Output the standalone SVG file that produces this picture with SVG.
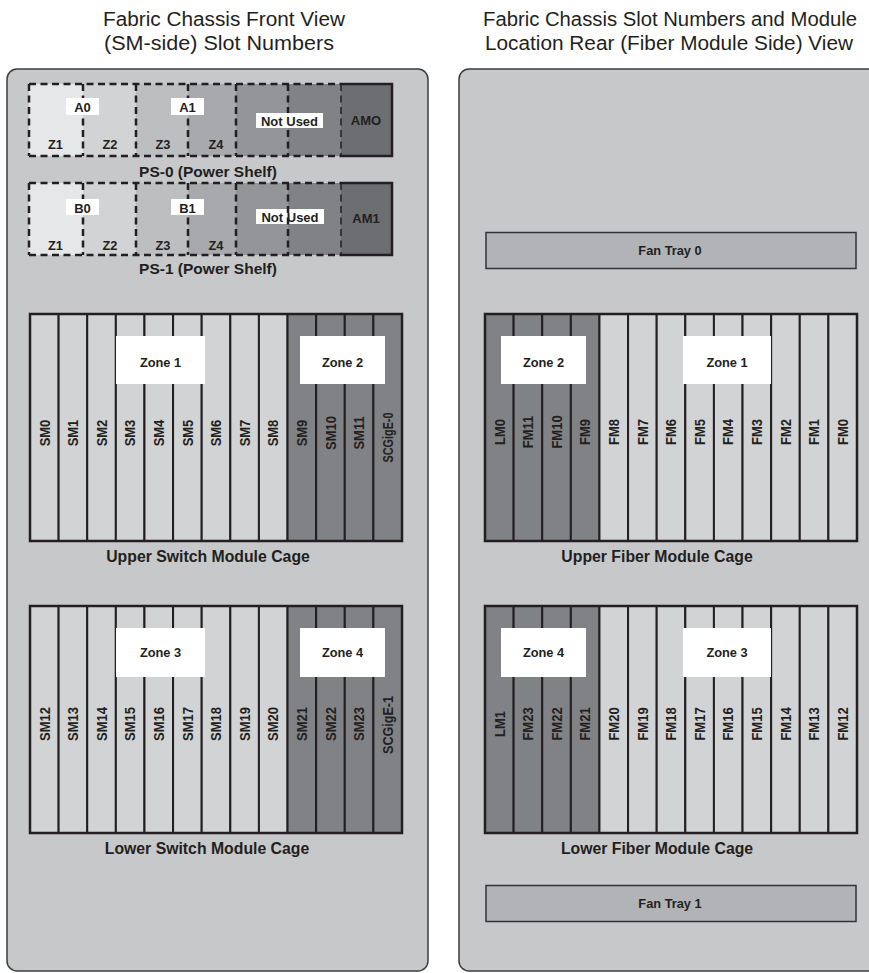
<svg xmlns="http://www.w3.org/2000/svg" width="869" height="973" viewBox="0 0 869 973">
<style>
text{font-family:"Liberation Sans",Arial,sans-serif;fill:#231f20}
.title{font-size:20px}
.cage{font-size:15.8px;font-weight:bold}
.ps{font-size:15.5px;font-weight:bold}
.sm{font-size:13px;font-weight:bold}
.zn{font-size:12.8px;font-weight:bold}
.panel{fill:#c7c8ca;stroke:#3c3c3e;stroke-width:1.5}
.lt{fill:#d1d3d4;stroke:#231f20;stroke-width:2}
.dk{fill:#808285;stroke:#231f20;stroke-width:2}
.frame{fill:none;stroke:#231f20;stroke-width:2.5}
.wb{fill:#ffffff}
.dash{fill:none;stroke:#231f20;stroke-width:2.5;stroke-dasharray:7 4.5}
.dash2{fill:none;stroke:#231f20;stroke-width:1.5;stroke-dasharray:7 4.5}
.solid{fill:none;stroke:#231f20;stroke-width:2.5}
.fan{fill:#b1b3b6;stroke:#333335;stroke-width:1.5}
</style>

<g id="titles">
<text class="title" x="224" y="26" text-anchor="middle" textLength="242" lengthAdjust="spacingAndGlyphs">Fabric Chassis Front View</text>
<text class="title" x="219" y="49.5" text-anchor="middle" textLength="230" lengthAdjust="spacingAndGlyphs">(SM-side) Slot Numbers</text>
<text class="title" x="670" y="26" text-anchor="middle" textLength="374" lengthAdjust="spacingAndGlyphs">Fabric Chassis Slot Numbers and Module</text>
<text class="title" x="669" y="49.5" text-anchor="middle" textLength="368" lengthAdjust="spacingAndGlyphs">Location Rear (Fiber Module Side) View</text>
</g>

<g id="front-panel">
<rect class="panel" x="7" y="69" width="421" height="902" rx="10"/>
</g>
<g id="rear-panel">
<rect class="panel" x="459" y="69" width="430" height="902" rx="10"/>
</g>

<g id="ps0">
<rect x="29" y="84" width="54" height="72" fill="#e6e7e8"/>
<rect x="83" y="84" width="53" height="72" fill="#d1d3d4"/>
<rect x="136" y="84" width="52" height="72" fill="#bcbec0"/>
<rect x="188" y="84" width="48" height="72" fill="#a7a9ac"/>
<rect x="236" y="84" width="52" height="72" fill="#939598"/>
<rect x="288" y="84" width="53" height="72" fill="#808285"/>
<rect x="341" y="84" width="51" height="72" fill="#6d6e71"/>
<path class="dash" d="M29,84 H341 M29,156 H341 M29,84 V156 M83,84 V156 M136,84 V156 M188,84 V156 M236,84 V156 M288,84 V156"/>
<path class="dash2" d="M341,84 V156"/>
<path class="solid" d="M341,84 H392 V156 H341"/>
<rect class="wb" x="66" y="98" width="33" height="17"/>
<text class="sm" x="82.5" y="112" text-anchor="middle">A0</text>
<rect class="wb" x="171" y="98" width="33" height="17"/>
<text class="sm" x="187.5" y="112" text-anchor="middle">A1</text>
<rect class="wb" x="256" y="113" width="67" height="15"/>
<text class="sm" x="289.5" y="125.5" text-anchor="middle">Not Used</text>
<text class="sm" x="366" y="125" text-anchor="middle">AMO</text>
<text class="zn" x="55.5" y="148.5" text-anchor="middle">Z1</text>
<text class="zn" x="110" y="148.5" text-anchor="middle">Z2</text>
<text class="zn" x="163" y="148.5" text-anchor="middle">Z3</text>
<text class="zn" x="216" y="148.5" text-anchor="middle">Z4</text>
<text class="ps" x="208" y="177" text-anchor="middle">PS-0 (Power Shelf)</text>
</g>

<g id="ps1">
<rect x="29" y="183" width="54" height="72" fill="#e6e7e8"/>
<rect x="83" y="183" width="53" height="72" fill="#d1d3d4"/>
<rect x="136" y="183" width="52" height="72" fill="#bcbec0"/>
<rect x="188" y="183" width="48" height="72" fill="#a7a9ac"/>
<rect x="236" y="183" width="52" height="72" fill="#939598"/>
<rect x="288" y="183" width="53" height="72" fill="#808285"/>
<rect x="341" y="183" width="51" height="72" fill="#6d6e71"/>
<rect class="wb" x="256" y="209" width="68" height="15"/>
<text class="sm" x="290" y="221.7" text-anchor="middle">Not Used</text>
<path class="dash" d="M29,183 H341 M29,255 H341 M29,183 V255 M83,183 V255 M136,183 V255 M188,183 V255 M236,183 V255 M288,183 V255"/>
<path class="dash2" d="M341,183 V255"/>
<path class="solid" d="M341,183 H392 V255 H341"/>
<rect class="wb" x="66" y="199" width="33" height="16"/>
<text class="sm" x="82.5" y="212.5" text-anchor="middle">B0</text>
<rect class="wb" x="171" y="199" width="33" height="16"/>
<text class="sm" x="187.5" y="212.5" text-anchor="middle">B1</text>
<text class="sm" x="366" y="223" text-anchor="middle">AM1</text>
<text class="zn" x="55.5" y="249.5" text-anchor="middle">Z1</text>
<text class="zn" x="110" y="249.5" text-anchor="middle">Z2</text>
<text class="zn" x="163" y="249.5" text-anchor="middle">Z3</text>
<text class="zn" x="216" y="249.5" text-anchor="middle">Z4</text>
<text class="ps" x="208" y="274" text-anchor="middle">PS-1 (Power Shelf)</text>
</g>

<g id="upper-switch-cage">
<g id="sm0"><rect class="lt" x="30" y="314" width="28.62" height="227"/><text class="sm" transform="translate(49.5,433) rotate(-90) scale(1,1.1)" text-anchor="middle">SM0</text></g>
<g id="sm1"><rect class="lt" x="58.62" y="314" width="28.62" height="227"/><text class="sm" transform="translate(78.1,433) rotate(-90) scale(1,1.1)" text-anchor="middle">SM1</text></g>
<g id="sm2"><rect class="lt" x="87.23" y="314" width="28.62" height="227"/><text class="sm" transform="translate(106.7,433) rotate(-90) scale(1,1.1)" text-anchor="middle">SM2</text></g>
<g id="sm3"><rect class="lt" x="115.85" y="314" width="28.62" height="227"/><text class="sm" transform="translate(135.3,433) rotate(-90) scale(1,1.1)" text-anchor="middle">SM3</text></g>
<g id="sm4"><rect class="lt" x="144.46" y="314" width="28.62" height="227"/><text class="sm" transform="translate(164,433) rotate(-90) scale(1,1.1)" text-anchor="middle">SM4</text></g>
<g id="sm5"><rect class="lt" x="173.08" y="314" width="28.62" height="227"/><text class="sm" transform="translate(192.6,433) rotate(-90) scale(1,1.1)" text-anchor="middle">SM5</text></g>
<g id="sm6"><rect class="lt" x="201.69" y="314" width="28.62" height="227"/><text class="sm" transform="translate(221.2,433) rotate(-90) scale(1,1.1)" text-anchor="middle">SM6</text></g>
<g id="sm7"><rect class="lt" x="230.31" y="314" width="28.62" height="227"/><text class="sm" transform="translate(249.8,433) rotate(-90) scale(1,1.1)" text-anchor="middle">SM7</text></g>
<g id="sm8"><rect class="lt" x="258.92" y="314" width="28.62" height="227"/><text class="sm" transform="translate(278.4,433) rotate(-90) scale(1,1.1)" text-anchor="middle">SM8</text></g>
<g id="sm9"><rect class="dk" x="287.54" y="314" width="28.62" height="227"/><text class="sm" transform="translate(307,433) rotate(-90) scale(1,1.1)" text-anchor="middle">SM9</text></g>
<g id="sm10"><rect class="dk" x="316.15" y="314" width="28.62" height="227"/><text class="sm" transform="translate(335.7,433) rotate(-90) scale(1,1.1)" text-anchor="middle">SM10</text></g>
<g id="sm11"><rect class="dk" x="344.77" y="314" width="28.62" height="227"/><text class="sm" transform="translate(364.3,433) rotate(-90) scale(1,1.1)" text-anchor="middle">SM11</text></g>
<g id="scgige0"><rect class="dk" x="373.38" y="314" width="28.62" height="227"/><text class="sm" transform="translate(392.9,437.5) rotate(-90) scale(1,1.1)" text-anchor="middle" textLength="50" lengthAdjust="spacingAndGlyphs">SCGigE-0</text></g>
<rect class="frame" x="30" y="314" width="372" height="227"/>
<g id="zone1-front"><rect class="wb" x="116" y="336" width="89" height="48"/><text class="zn" x="160.5" y="366.5" text-anchor="middle">Zone 1</text></g>
<g id="zone2-front"><rect class="wb" x="300" y="336" width="85" height="48"/><text class="zn" x="342.5" y="366.5" text-anchor="middle">Zone 2</text></g>
<text class="cage" x="208" y="562" text-anchor="middle">Upper Switch Module Cage</text>
</g>

<g id="lower-switch-cage">
<g id="sm12"><rect class="lt" x="30" y="606" width="28.62" height="227"/><text class="sm" transform="translate(49.5,724) rotate(-90) scale(1,1.1)" text-anchor="middle">SM12</text></g>
<g id="sm13"><rect class="lt" x="58.62" y="606" width="28.62" height="227"/><text class="sm" transform="translate(78.1,724) rotate(-90) scale(1,1.1)" text-anchor="middle">SM13</text></g>
<g id="sm14"><rect class="lt" x="87.23" y="606" width="28.62" height="227"/><text class="sm" transform="translate(106.7,724) rotate(-90) scale(1,1.1)" text-anchor="middle">SM14</text></g>
<g id="sm15"><rect class="lt" x="115.85" y="606" width="28.62" height="227"/><text class="sm" transform="translate(135.3,724) rotate(-90) scale(1,1.1)" text-anchor="middle">SM15</text></g>
<g id="sm16"><rect class="lt" x="144.46" y="606" width="28.62" height="227"/><text class="sm" transform="translate(164,724) rotate(-90) scale(1,1.1)" text-anchor="middle">SM16</text></g>
<g id="sm17"><rect class="lt" x="173.08" y="606" width="28.62" height="227"/><text class="sm" transform="translate(192.6,724) rotate(-90) scale(1,1.1)" text-anchor="middle">SM17</text></g>
<g id="sm18"><rect class="lt" x="201.69" y="606" width="28.62" height="227"/><text class="sm" transform="translate(221.2,724) rotate(-90) scale(1,1.1)" text-anchor="middle">SM18</text></g>
<g id="sm19"><rect class="lt" x="230.31" y="606" width="28.62" height="227"/><text class="sm" transform="translate(249.8,724) rotate(-90) scale(1,1.1)" text-anchor="middle">SM19</text></g>
<g id="sm20"><rect class="lt" x="258.92" y="606" width="28.62" height="227"/><text class="sm" transform="translate(278.4,724) rotate(-90) scale(1,1.1)" text-anchor="middle">SM20</text></g>
<g id="sm21"><rect class="dk" x="287.54" y="606" width="28.62" height="227"/><text class="sm" transform="translate(307,724) rotate(-90) scale(1,1.1)" text-anchor="middle">SM21</text></g>
<g id="sm22"><rect class="dk" x="316.15" y="606" width="28.62" height="227"/><text class="sm" transform="translate(335.7,724) rotate(-90) scale(1,1.1)" text-anchor="middle">SM22</text></g>
<g id="sm23"><rect class="dk" x="344.77" y="606" width="28.62" height="227"/><text class="sm" transform="translate(364.3,724) rotate(-90) scale(1,1.1)" text-anchor="middle">SM23</text></g>
<g id="scgige1"><rect class="dk" x="373.38" y="606" width="28.62" height="227"/><text class="sm" transform="translate(392.9,725) rotate(-90) scale(1,1.1)" text-anchor="middle" textLength="58" lengthAdjust="spacingAndGlyphs">SCGigE-1</text></g>
<rect class="frame" x="30" y="606" width="372" height="227"/>
<g id="zone3-front"><rect class="wb" x="116" y="628" width="89" height="49"/><text class="zn" x="160.5" y="657" text-anchor="middle">Zone 3</text></g>
<g id="zone4-front"><rect class="wb" x="300" y="628" width="85" height="49"/><text class="zn" x="342.5" y="657" text-anchor="middle">Zone 4</text></g>
<text class="cage" x="207" y="854" text-anchor="middle">Lower Switch Module Cage</text>
</g>

<g id="fan-tray-0">
<rect class="fan" x="486" y="232.5" width="370" height="36"/>
<text class="zn" x="670" y="254.5" text-anchor="middle">Fan Tray 0</text>
</g>

<g id="upper-fiber-cage">
<g id="lm0"><rect class="dk" x="485" y="314" width="28.62" height="227"/><text class="sm" transform="translate(504.5,432) rotate(-90) scale(1,1.1)" text-anchor="middle">LM0</text></g>
<g id="fm11"><rect class="dk" x="513.62" y="314" width="28.62" height="227"/><text class="sm" transform="translate(533.1,432) rotate(-90) scale(1,1.1)" text-anchor="middle">FM11</text></g>
<g id="fm10"><rect class="dk" x="542.23" y="314" width="28.62" height="227"/><text class="sm" transform="translate(561.7,432) rotate(-90) scale(1,1.1)" text-anchor="middle">FM10</text></g>
<g id="fm9"><rect class="dk" x="570.85" y="314" width="28.62" height="227"/><text class="sm" transform="translate(590.3,432) rotate(-90) scale(1,1.1)" text-anchor="middle">FM9</text></g>
<g id="fm8"><rect class="lt" x="599.46" y="314" width="28.62" height="227"/><text class="sm" transform="translate(619,432) rotate(-90) scale(1,1.1)" text-anchor="middle">FM8</text></g>
<g id="fm7"><rect class="lt" x="628.08" y="314" width="28.62" height="227"/><text class="sm" transform="translate(647.6,432) rotate(-90) scale(1,1.1)" text-anchor="middle">FM7</text></g>
<g id="fm6"><rect class="lt" x="656.69" y="314" width="28.62" height="227"/><text class="sm" transform="translate(676.2,432) rotate(-90) scale(1,1.1)" text-anchor="middle">FM6</text></g>
<g id="fm5"><rect class="lt" x="685.31" y="314" width="28.62" height="227"/><text class="sm" transform="translate(704.8,432) rotate(-90) scale(1,1.1)" text-anchor="middle">FM5</text></g>
<g id="fm4"><rect class="lt" x="713.92" y="314" width="28.62" height="227"/><text class="sm" transform="translate(733.4,432) rotate(-90) scale(1,1.1)" text-anchor="middle">FM4</text></g>
<g id="fm3"><rect class="lt" x="742.54" y="314" width="28.62" height="227"/><text class="sm" transform="translate(762,432) rotate(-90) scale(1,1.1)" text-anchor="middle">FM3</text></g>
<g id="fm2"><rect class="lt" x="771.15" y="314" width="28.62" height="227"/><text class="sm" transform="translate(790.7,432) rotate(-90) scale(1,1.1)" text-anchor="middle">FM2</text></g>
<g id="fm1"><rect class="lt" x="799.77" y="314" width="28.62" height="227"/><text class="sm" transform="translate(819.3,432) rotate(-90) scale(1,1.1)" text-anchor="middle">FM1</text></g>
<g id="fm0"><rect class="lt" x="828.38" y="314" width="28.62" height="227"/><text class="sm" transform="translate(847.9,432) rotate(-90) scale(1,1.1)" text-anchor="middle">FM0</text></g>
<rect class="frame" x="485" y="314" width="372" height="227"/>
<g id="zone2-rear"><rect class="wb" x="501" y="336" width="85" height="48"/><text class="zn" x="543.5" y="366.5" text-anchor="middle">Zone 2</text></g>
<g id="zone1-rear"><rect class="wb" x="683" y="336" width="88" height="48"/><text class="zn" x="727" y="366.5" text-anchor="middle">Zone 1</text></g>
<text class="cage" x="657" y="562" text-anchor="middle">Upper Fiber Module Cage</text>
</g>

<g id="lower-fiber-cage">
<g id="lm1"><rect class="dk" x="485" y="606" width="28.62" height="227"/><text class="sm" transform="translate(504.5,724) rotate(-90) scale(1,1.1)" text-anchor="middle">LM1</text></g>
<g id="fm23"><rect class="dk" x="513.62" y="606" width="28.62" height="227"/><text class="sm" transform="translate(533.1,724) rotate(-90) scale(1,1.1)" text-anchor="middle">FM23</text></g>
<g id="fm22"><rect class="dk" x="542.23" y="606" width="28.62" height="227"/><text class="sm" transform="translate(561.7,724) rotate(-90) scale(1,1.1)" text-anchor="middle">FM22</text></g>
<g id="fm21"><rect class="dk" x="570.85" y="606" width="28.62" height="227"/><text class="sm" transform="translate(590.3,724) rotate(-90) scale(1,1.1)" text-anchor="middle">FM21</text></g>
<g id="fm20"><rect class="lt" x="599.46" y="606" width="28.62" height="227"/><text class="sm" transform="translate(619,724) rotate(-90) scale(1,1.1)" text-anchor="middle">FM20</text></g>
<g id="fm19"><rect class="lt" x="628.08" y="606" width="28.62" height="227"/><text class="sm" transform="translate(647.6,724) rotate(-90) scale(1,1.1)" text-anchor="middle">FM19</text></g>
<g id="fm18"><rect class="lt" x="656.69" y="606" width="28.62" height="227"/><text class="sm" transform="translate(676.2,724) rotate(-90) scale(1,1.1)" text-anchor="middle">FM18</text></g>
<g id="fm17"><rect class="lt" x="685.31" y="606" width="28.62" height="227"/><text class="sm" transform="translate(704.8,724) rotate(-90) scale(1,1.1)" text-anchor="middle">FM17</text></g>
<g id="fm16"><rect class="lt" x="713.92" y="606" width="28.62" height="227"/><text class="sm" transform="translate(733.4,724) rotate(-90) scale(1,1.1)" text-anchor="middle">FM16</text></g>
<g id="fm15"><rect class="lt" x="742.54" y="606" width="28.62" height="227"/><text class="sm" transform="translate(762,724) rotate(-90) scale(1,1.1)" text-anchor="middle">FM15</text></g>
<g id="fm14"><rect class="lt" x="771.15" y="606" width="28.62" height="227"/><text class="sm" transform="translate(790.7,724) rotate(-90) scale(1,1.1)" text-anchor="middle">FM14</text></g>
<g id="fm13"><rect class="lt" x="799.77" y="606" width="28.62" height="227"/><text class="sm" transform="translate(819.3,724) rotate(-90) scale(1,1.1)" text-anchor="middle">FM13</text></g>
<g id="fm12"><rect class="lt" x="828.38" y="606" width="28.62" height="227"/><text class="sm" transform="translate(847.9,724) rotate(-90) scale(1,1.1)" text-anchor="middle">FM12</text></g>
<rect class="frame" x="485" y="606" width="372" height="227"/>
<g id="zone4-rear"><rect class="wb" x="501" y="628" width="85" height="49"/><text class="zn" x="543.5" y="657" text-anchor="middle">Zone 4</text></g>
<g id="zone3-rear"><rect class="wb" x="683" y="628" width="88" height="49"/><text class="zn" x="727" y="657" text-anchor="middle">Zone 3</text></g>
<text class="cage" x="657" y="854" text-anchor="middle">Lower Fiber Module Cage</text>
</g>

<g id="fan-tray-1">
<rect class="fan" x="486" y="885.5" width="370" height="36"/>
<text class="zn" x="670" y="907.5" text-anchor="middle">Fan Tray 1</text>
</g>

<g id="connectors"/>
</svg>
